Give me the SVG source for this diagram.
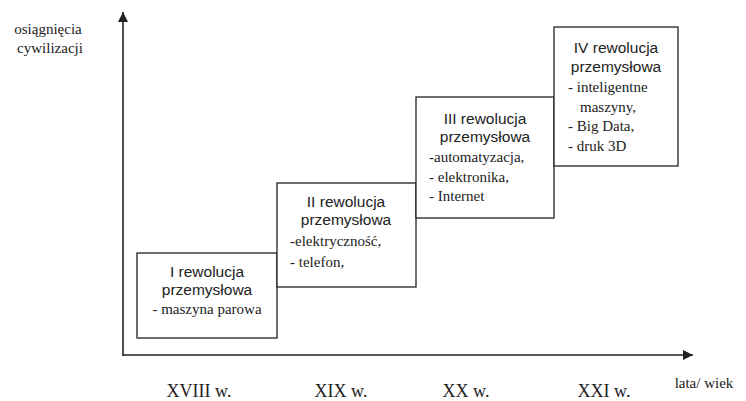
<svg xmlns="http://www.w3.org/2000/svg" width="746" height="401" viewBox="0 0 746 401">
<style>
.box{fill:#fff;stroke:#222;stroke-width:1.3}
.ax{stroke:#222;stroke-width:1.6;fill:none}
.h{font-family:"Liberation Sans",Arial,sans-serif;font-size:15.5px;fill:#222;text-anchor:middle}
.t{font-family:"Liberation Serif","Times New Roman",serif;font-size:15px;fill:#222}
.c{text-anchor:middle}
.lab{font-family:"Liberation Serif","Times New Roman",serif;font-size:18px;fill:#222;text-anchor:middle}
</style>
<defs>
<marker id="ah" markerWidth="10" markerHeight="10" refX="10" refY="5" orient="auto" markerUnits="userSpaceOnUse">
<path d="M0,0 L10,5 L0,10 Z" fill="#222"/>
</marker>
</defs>
<g id="connectors">
<path class="ax" d="M123,356 L123,12" marker-end="url(#ah)"/>
<path class="ax" d="M123,355 L693,355" marker-end="url(#ah)"/>
</g>
<g id="node1">
<rect class="box" x="137" y="253" width="140" height="85"/>
<text class="h" x="207" y="277">I rewolucja</text>
<text class="h" x="207" y="295">przemysłowa</text>
<text class="t c" x="207" y="314">- maszyna parowa</text>
</g>
<g id="node2">
<rect class="box" x="277" y="183" width="139" height="104"/>
<text class="h" x="346" y="207">II rewolucja</text>
<text class="h" x="346" y="225">przemysłowa</text>
<text class="t" x="290" y="246">-elektryczność,</text>
<text class="t" x="290" y="267">- telefon,</text>
</g>
<g id="node3">
<rect class="box" x="416" y="97" width="138" height="121"/>
<text class="h" x="485" y="124">III rewolucja</text>
<text class="h" x="485" y="142">przemysłowa</text>
<text class="t" x="429" y="162">-automatyzacja,</text>
<text class="t" x="429" y="182">- elektronika,</text>
<text class="t" x="429" y="201">- Internet</text>
</g>
<g id="node4">
<rect class="box" x="554" y="27" width="124" height="139"/>
<text class="h" x="616" y="53">IV rewolucja</text>
<text class="h" x="616" y="72">przemysłowa</text>
<text class="t" x="568" y="92">- inteligentne</text>
<text class="t" x="580" y="112">maszyny,</text>
<text class="t" x="568" y="131">- Big Data,</text>
<text class="t" x="568" y="151">- druk 3D</text>
</g>
<g id="labels">
<text class="t c" x="48" y="34">osiągnięcia</text>
<text class="t c" x="50" y="53">cywilizacji</text>
<text class="lab" x="199" y="397">XVIII w.</text>
<text class="lab" x="341" y="397">XIX w.</text>
<text class="lab" x="466" y="397">XX w.</text>
<text class="lab" x="604" y="397">XXI w.</text>
<text class="t c" x="704" y="388">lata/ wiek</text>
</g>
</svg>
